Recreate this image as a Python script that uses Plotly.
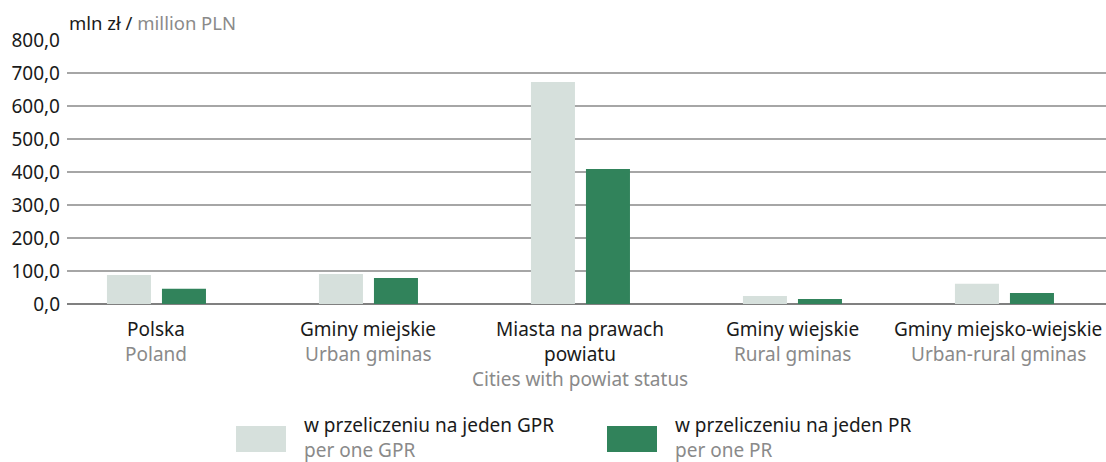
import plotly.graph_objects as go

categories_pl = [["Polska"], ["Gminy miejskie"], ["Miasta na prawach", "powiatu"], ["Gminy wiejskie"], ["Gminy miejsko-wiejskie"]]
categories_en = ["Poland", "Urban gminas", "Cities with powiat status", "Rural gminas", "Urban-rural gminas"]
per_gpr = [88.0, 91.0, 673.0, 24.0, 61.0]
per_pr = [46.0, 79.0, 409.0, 15.0, 33.0]
series_pl = ["w przeliczeniu na jeden GPR", "w przeliczeniu na jeden PR"]
series_en = ["per one GPR", "per one PR"]
y_ticks = [0, 100, 200, 300, 400, 500, 600, 700, 800]

LIGHT = "#d6e0dc"
DARK = "#31835b"
GRAY = "#8a8a8a"
BLACK = "#1a1a1a"
FONT = "Noto Sans"
FS = 19

x_idx = list(range(len(categories_pl)))

fig = go.Figure()
fig.add_trace(go.Bar(x=x_idx, y=per_gpr, marker_color=LIGHT, marker_line_width=0, name=series_en[0]))
fig.add_trace(go.Bar(x=x_idx, y=per_pr, marker_color=DARK, marker_line_width=0, name=series_en[1]))

fig.update_layout(
    width=1106, height=462,
    margin=dict(l=67, r=0, t=40, b=158, autoexpand=False),
    paper_bgcolor="white", plot_bgcolor="white",
    barmode="group", bargap=0.481, bargroupgap=0.2,
    showlegend=False,
    separators=", ",
    font=dict(family=FONT, size=FS, color=BLACK),
)
fig.update_xaxes(
    tickmode="array", tickvals=x_idx, showticklabels=False,
    range=[-0.422, 4.479], showgrid=False, zeroline=False, showline=False,
    ticks="", automargin=False,
)
fig.update_yaxes(
    range=[0, 800], tickvals=y_ticks, tickformat=".1f",
    showgrid=True, gridcolor="#a6a6a6", gridwidth=1.5,
    zeroline=True, zerolinecolor="#808080", zerolinewidth=2,
    showline=False, ticks="", ticklabelstandoff=6,
    tickfont=dict(size=FS, family=FONT, color=BLACK), automargin=False,
)

W = 1039.0
H = 264.0
def px_x(p):
    return (p - 67) / W
def px_y(p):
    return (304 - p) / H

# category labels (Polish in black, English in gray), 25px line pitch
LINE0 = 328.5
PITCH = 25
for i, (pl_lines, en) in enumerate(zip(categories_pl, categories_en)):
    lines = [(t, BLACK) for t in pl_lines] + [(en, GRAY)]
    shift = -6 if i == len(categories_pl) - 1 else 0
    for k, (t, col) in enumerate(lines):
        fig.add_annotation(xref="x", yref="paper", x=i, y=px_y(LINE0 + k * PITCH),
                           xanchor="center", yanchor="middle", showarrow=False, xshift=shift,
                           text=t, font=dict(size=FS, family=FONT, color=col))

fig.add_annotation(
    xref="paper", yref="paper", x=px_x(67), y=px_y(22), xanchor="left", yanchor="middle",
    text=f"mln zł / <span style='color:{GRAY}'>million PLN</span>", showarrow=False,
    font=dict(size=FS - 0.5, family=FONT, color=BLACK),
)

swatches = [(236, 286, LIGHT, 305), (607, 657, DARK, 676)]
for (x0, x1, col, tx), pl, en in zip(swatches, series_pl, series_en):
    fig.add_shape(type="rect", xref="paper", yref="paper",
                  x0=px_x(x0), x1=px_x(x1), y0=px_y(452), y1=px_y(426),
                  fillcolor=col, line_width=0)
    fig.add_annotation(xref="paper", yref="paper", x=px_x(tx - 3), y=px_y(424.5),
                       xanchor="left", yanchor="middle", align="left", showarrow=False,
                       text=pl, font=dict(size=FS, family=FONT, color=BLACK))
    fig.add_annotation(xref="paper", yref="paper", x=px_x(tx - 3), y=px_y(449.5),
                       xanchor="left", yanchor="middle", align="left", showarrow=False,
                       text=en, font=dict(size=FS, family=FONT, color=GRAY))

fig.write_html(
    "out.html",
    config={"displayModeBar": False},
    post_script="document.body.style.margin='0';document.body.style.overflow='hidden';",
)
